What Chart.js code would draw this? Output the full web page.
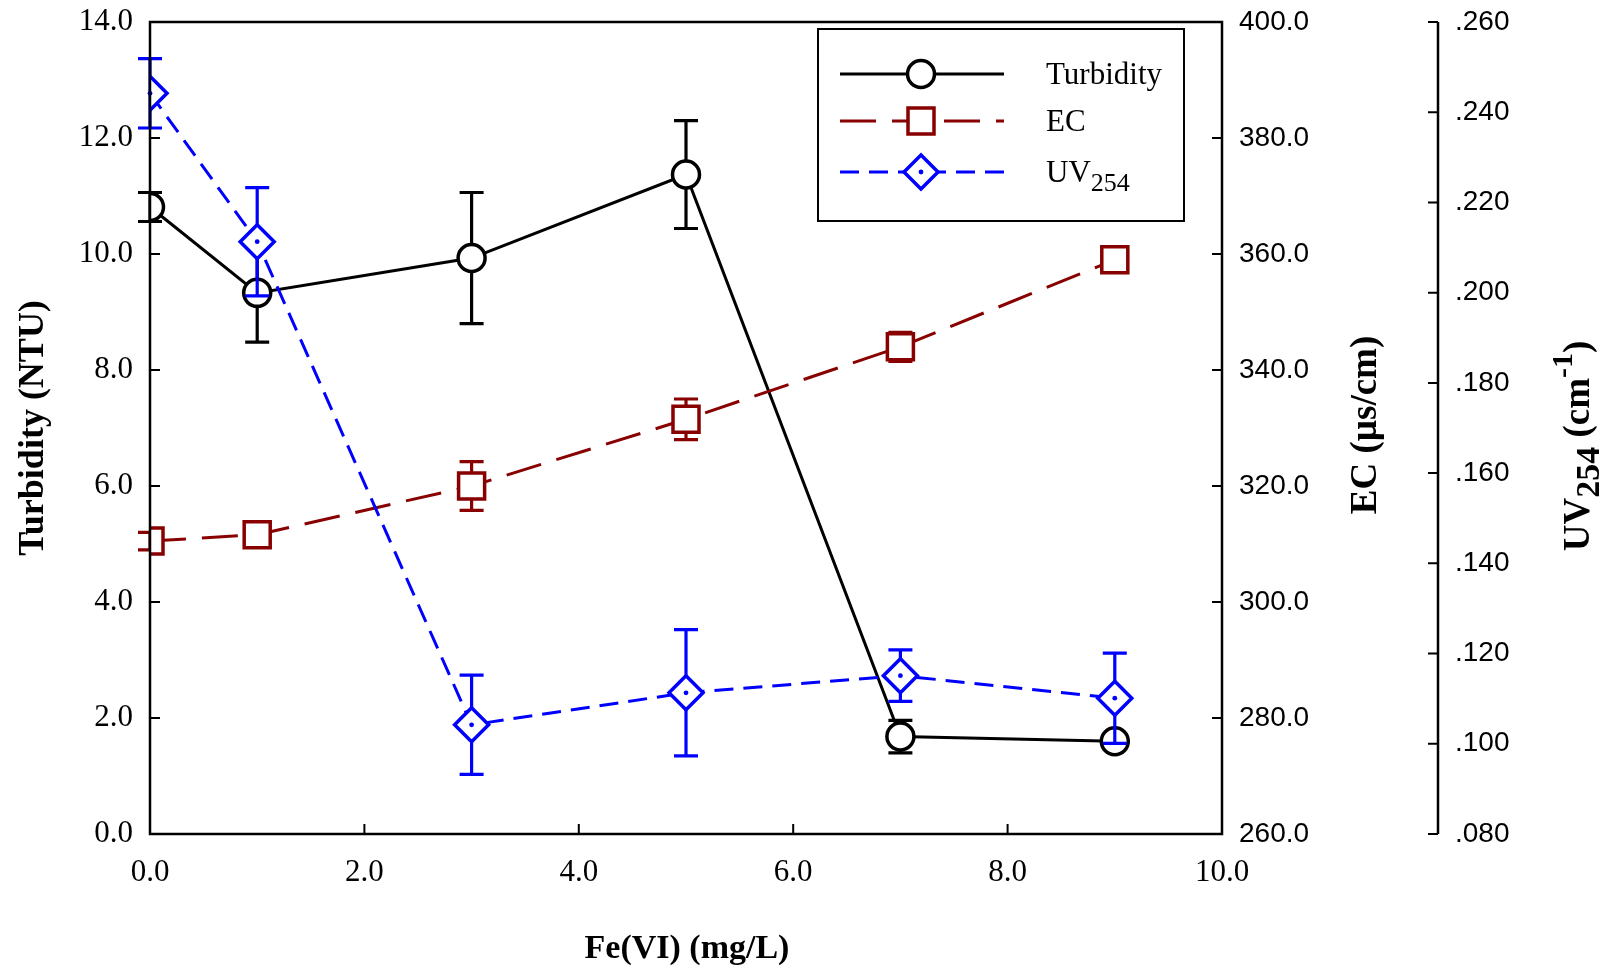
<!DOCTYPE html>
<html>
<head>
<meta charset="utf-8">
<script src="https://cdn.jsdelivr.net/npm/chart.js@4/dist/chart.umd.min.js"></script>
<style>
  html, body { margin: 0; padding: 0; background: #fff; }
  #c { display: block; }
</style>
</head>
<body>
<canvas id="c" width="1601" height="969"></canvas>
<script>
// ---- data -----------------------------------------------------------------
const doses        = [0, 1, 3, 5, 7, 9];                       // Fe(VI) mg/L
const turbidity    = [10.81, 9.33, 9.93, 11.37, 1.68, 1.60];  // NTU
const turbidityErr = [0.25, 0.85, 1.13, 0.93, 0.28, 0.08];
const ec           = [310.5, 311.6, 320.0, 331.5, 344.0, 359.0];
const ecErr        = [1.5, 1.5, 4.2, 3.5, 2.5, 2.0];
const uv           = [0.2442, 0.2113, 0.1042, 0.1113, 0.1151, 0.1101];
const uvErr        = [0.0077, 0.012, 0.011, 0.014, 0.0057, 0.010];

const SERIF = "'Liberation Serif', 'Times New Roman', serif";
const SANS  = "'Liberation Sans', Arial, sans-serif";
const DARKRED = "#880000", BLUE = "#0000ff";

const pts = (ys) => doses.map((x, i) => ({ x, y: ys[i] }));

// ---- error bars drawn under each series' markers ---------------------------
const errorBars = {
  id: "errorBars",
  beforeDatasetDraw(chart, args) {
    const ds = chart.data.datasets[args.index];
    const xs = chart.scales.x, ys = chart.scales[ds.yAxisID];
    const ctx = chart.ctx, cap = 12;
    ctx.save();
    ctx.strokeStyle = ds.borderColor;
    ctx.lineWidth = 3.2;
    ctx.setLineDash([]);
    ds.data.forEach((p, i) => {
      const e = ds.errs[i];
      const x = xs.getPixelForValue(p.x);
      const yt = ys.getPixelForValue(p.y + e), yb = ys.getPixelForValue(p.y - e);
      ctx.beginPath();
      ctx.moveTo(x, yt); ctx.lineTo(x, yb);
      ctx.moveTo(x - cap, yt); ctx.lineTo(x + cap, yt);
      ctx.moveTo(x - cap, yb); ctx.lineTo(x + cap, yb);
      ctx.stroke();
    });
    ctx.restore();
  },
  afterDatasetDraw(chart, args) {
    // little dot in the middle of the UV diamonds
    const ds = chart.data.datasets[args.index];
    if (!ds.centerDot) return;
    const ctx = chart.ctx;
    ctx.save();
    ctx.fillStyle = ds.borderColor;
    args.meta.data.forEach(el => {
      ctx.beginPath(); ctx.arc(el.x, el.y, 2.4, 0, Math.PI * 2); ctx.fill();
    });
    ctx.restore();
  }
};

// ---- frame, axis lines and inward ticks -----------------------------------
const frame = {
  id: "frame",
  afterDraw(chart) {
    const { ctx, chartArea: a, scales } = chart;
    const T = 10;
    ctx.save();
    ctx.strokeStyle = "#000";
    ctx.lineWidth = 2.5;
    ctx.setLineDash([]);
    ctx.strokeRect(a.left, a.top, a.right - a.left, a.bottom - a.top);
    const uvX = scales.yUV.left;
    ctx.beginPath(); ctx.moveTo(uvX, a.top); ctx.lineTo(uvX, a.bottom); ctx.stroke();

    ctx.lineWidth = 2;
    ctx.beginPath();
    scales.x.ticks.forEach(t => {
      const x = scales.x.getPixelForValue(t.value);
      ctx.moveTo(x, a.bottom); ctx.lineTo(x, a.bottom - T);
    });
    scales.y.ticks.forEach(t => {
      const y = scales.y.getPixelForValue(t.value);
      ctx.moveTo(a.left, y); ctx.lineTo(a.left + T, y);
    });
    scales.yEC.ticks.forEach(t => {
      const y = scales.yEC.getPixelForValue(t.value);
      ctx.moveTo(a.right, y); ctx.lineTo(a.right - T, y);
    });
    scales.yUV.ticks.forEach(t => {
      const y = scales.yUV.getPixelForValue(t.value);
      ctx.moveTo(uvX, y); ctx.lineTo(uvX - T, y);
    });
    ctx.stroke();
    ctx.restore();
  }
};

// rich text: segments of {t, s (font size), dy (baseline shift)}
function richWidth(ctx, segs, bold) {
  return segs.reduce((w, g) => {
    ctx.font = `${bold ? "bold " : ""}${g.s}px ${SERIF}`;
    return w + ctx.measureText(g.t).width;
  }, 0);
}
function drawRich(ctx, segs, x, y, rot, bold, align) {
  ctx.save();
  ctx.translate(x, y);
  if (rot) ctx.rotate(rot);
  ctx.fillStyle = "#000";
  ctx.textBaseline = "alphabetic";
  ctx.textAlign = "left";
  let cx = align === "center" ? -richWidth(ctx, segs, bold) / 2 : 0;
  segs.forEach(g => {
    ctx.font = `${bold ? "bold " : ""}${g.s}px ${SERIF}`;
    ctx.fillText(g.t, cx, g.dy || 0);
    cx += ctx.measureText(g.t).width;
  });
  ctx.restore();
}

// ---- axis titles -----------------------------------------------------------
const titles = {
  id: "titles",
  afterDraw(chart) {
    const ctx = chart.ctx, R = -Math.PI / 2;
    drawRich(ctx, [{ t: "Turbidity (NTU)", s: 36 }], 43, 428, R, true, "center");
    drawRich(ctx, [{ t: "Fe(VI) (mg/L)", s: 34 }], 687, 958, 0, true, "center");
    drawRich(ctx, [{ t: "EC (µs/cm)", s: 37 }], 1376, 425, R, true, "center");
    drawRich(ctx, [
      { t: "UV", s: 37 }, { t: "254", s: 34, dy: 10 }, { t: " (cm", s: 37 },
      { t: "-1", s: 30, dy: -17 }, { t: ")", s: 37 }
    ], 1589, 446, R, true, "center");
  }
};

// ---- legend box ------------------------------------------------------------
const legendBox = {
  id: "legendBox",
  afterDraw(chart) {
    const ctx = chart.ctx;
    ctx.save();
    ctx.strokeStyle = "#000"; ctx.lineWidth = 2; ctx.setLineDash([]);
    ctx.fillStyle = "#fff";
    ctx.fillRect(818, 29, 366, 192);
    ctx.strokeRect(818, 29, 366, 192);

    const rows = [
      { y: 74,  color: "#000",  dash: [],       shape: "circle", label: [{ t: "Turbidity", s: 31 }] },
      { y: 121, color: DARKRED, dash: [36, 16], shape: "square", label: [{ t: "EC", s: 31 }] },
      { y: 172, color: BLUE,    dash: [19, 10], shape: "diamond",
        label: [{ t: "UV", s: 31 }, { t: "254", s: 26, dy: 9 }] }
    ];
    const mx = 921;
    rows.forEach(r => {
      ctx.strokeStyle = r.color; ctx.lineWidth = 3; ctx.setLineDash(r.dash);
      ctx.beginPath(); ctx.moveTo(840, r.y); ctx.lineTo(1004, r.y); ctx.stroke();
      ctx.setLineDash([]); ctx.lineWidth = 3.5; ctx.fillStyle = "#fff";
      ctx.beginPath();
      if (r.shape === "circle") ctx.arc(mx, r.y, 13.5, 0, Math.PI * 2);
      else if (r.shape === "square") ctx.rect(mx - 13, r.y - 13, 26, 26);
      else { ctx.moveTo(mx, r.y - 17); ctx.lineTo(mx + 17, r.y); ctx.lineTo(mx, r.y + 17); ctx.lineTo(mx - 17, r.y); ctx.closePath(); }
      ctx.fill(); ctx.stroke();
      if (r.shape === "diamond") {
        ctx.fillStyle = r.color; ctx.beginPath(); ctx.arc(mx, r.y, 2.4, 0, Math.PI * 2); ctx.fill();
      }
      drawRich(ctx, r.label, 1046, r.y + 10, 0, false, "left");
    });
    ctx.restore();
  }
};

const tickFontSerif = { family: SERIF, size: 31 };
const tickFontSans  = { family: SANS, size: 28 };
const noGrid = { display: false, drawTicks: false };
// fixed axis sizes, no extra padding for the end labels
const fitY = w => s => { s.width = w; s.paddingTop = 0; s.paddingBottom = 0; };

new Chart(document.getElementById("c"), {
  type: "line",
  data: {
    datasets: [
      {
        label: "Turbidity", data: pts(turbidity), errs: turbidityErr, yAxisID: "y",
        borderColor: "#000", borderWidth: 3, pointStyle: "circle", pointRadius: 13.5,
        pointBorderWidth: 3.5, pointBackgroundColor: "#fff", pointBorderColor: "#000", order: 3
      },
      {
        label: "EC", data: pts(ec), errs: ecErr, yAxisID: "yEC",
        borderColor: DARKRED, borderWidth: 3, borderDash: [36, 16], pointStyle: "rect",
        pointRadius: 18.4, pointBorderWidth: 3.5, pointBackgroundColor: "#fff",
        pointBorderColor: DARKRED, order: 2
      },
      {
        label: "UV254", data: pts(uv), errs: uvErr, yAxisID: "yUV", centerDot: true,
        borderColor: BLUE, borderWidth: 3, borderDash: [19, 10], pointStyle: "rectRot",
        pointRadius: 17, pointBorderWidth: 3.5, pointBackgroundColor: "#fff",
        pointBorderColor: BLUE, order: 1
      }
    ]
  },
  options: {
    responsive: false,
    animation: false,
    devicePixelRatio: 1,
    layout: { padding: { top: 22, left: 0, right: 0, bottom: 0 } },
    plugins: { legend: { display: false }, tooltip: { enabled: false } },
    elements: { line: { tension: 0, fill: false } },
    scales: {
      x: {
        type: "linear", position: "bottom", min: 0, max: 10,
        ticks: { stepSize: 2, font: tickFontSerif, color: "#000", padding: 20,
                 callback: v => v.toFixed(1) },
        grid: noGrid, border: { display: false },
        afterFit: s => { s.height = 135; s.paddingLeft = 0; s.paddingRight = 0; }
      },
      y: {
        position: "left", min: 0, max: 14,
        ticks: { stepSize: 2, font: tickFontSerif, color: "#000", padding: 17,
                 callback: v => v.toFixed(1) },
        grid: noGrid, border: { display: false },
        afterFit: fitY(150)
      },
      yEC: {
        position: "right", weight: 0, min: 260, max: 400,
        ticks: { stepSize: 20, font: tickFontSans, color: "#000", padding: 17,
                 callback: v => v.toFixed(1) },
        grid: noGrid, border: { display: false },
        afterFit: fitY(216)
      },
      yUV: {
        position: "right", weight: 1, min: 0.08, max: 0.26,
        ticks: { stepSize: 0.02, font: tickFontSans, color: "#000", padding: 17,
                 callback: v => v.toFixed(3).replace(/^0/, "") },
        grid: noGrid, border: { display: false },
        afterFit: fitY(163)
      }
    }
  },
  plugins: [errorBars, frame, titles, legendBox]
});
</script>
</body>
</html>
